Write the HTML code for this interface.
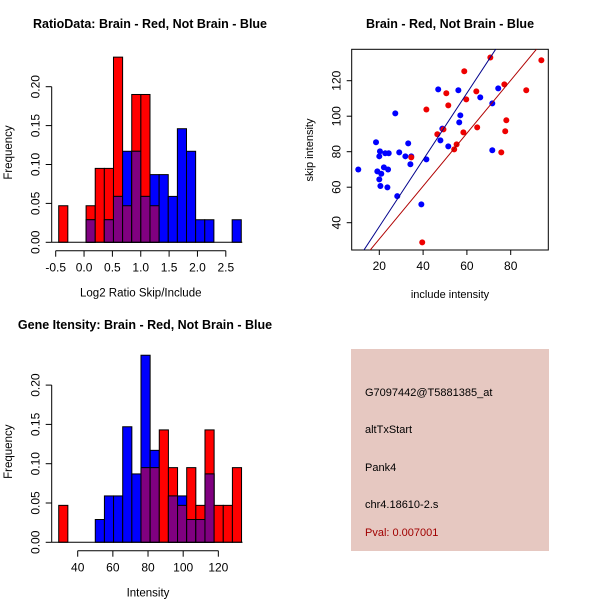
<!DOCTYPE html>
<html><head><meta charset="utf-8"><style>
html,body{margin:0;padding:0;background:#fff;}
svg{display:block;font-family:"Liberation Sans",sans-serif;}
</style></head><body>
<svg id="s" width="600" height="600" viewBox="0 0 600 600">
<rect width="600" height="600" fill="#fff"/>
<text x="150" y="28" text-anchor="middle" font-size="12.5" font-weight="bold">RatioData: Brain - Red, Not Brain - Blue</text>
<text x="450" y="28" text-anchor="middle" font-size="12.5" font-weight="bold">Brain - Red, Not Brain - Blue</text>
<text x="145" y="329" text-anchor="middle" font-size="12.5" font-weight="bold">Gene Itensity: Brain - Red, Not Brain - Blue</text>
<g id="h1"></g>
<g id="h2"></g>
<g id="sc"></g>
<g>
<rect x="351" y="349" width="198" height="202" fill="#e6c8c1"/>
<text x="365" y="396" font-size="11">G7097442@T5881385_at</text>
<text x="365" y="433" font-size="11">altTxStart</text>
<text x="365" y="471" font-size="11">Pank4</text>
<text x="365" y="508" font-size="11">chr4.18610-2.s</text>
<text x="365" y="536" font-size="11" fill="#a00000">Pval: 0.007001</text>
</g>
</svg>
<script>
// Ratio histogram data
const ratioBinStart = -0.447;
const ratioBinWidth = 0.161;
const ratioRed = [0.047,0,0,0.047,0.095,0.095,0.238,0.047,0.19,0.19,0.047,0,0,0,0,0,0,0,0,0];
const ratioBlue = [0,0,0,0.029,0,0.029,0.059,0.117,0.117,0.059,0.087,0.087,0.059,0.146,0.117,0.029,0.029,0,0,0.029];
const ratioXTicks = [-0.5,0,0.5,1,1.5,2,2.5];
const ratioXLabels = ["-0.5","0.0","0.5","1.0","1.5","2.0","2.5"];
const freqTicks = [0,0.05,0.1,0.15,0.2];
const freqLabels = ["0.00","0.05","0.10","0.15","0.20"];
// Intensity histogram data
const intBinStart = 29.2;
const intBinWidth = 5.2;
const intRed = [0.047,0,0,0,0,0,0,0,0,0.095,0.095,0.143,0.095,0.047,0.095,0.047,0.143,0.047,0.047,0.095];
const intBlue = [0,0,0,0,0.029,0.059,0.059,0.147,0.087,0.238,0.117,0,0.059,0.059,0.029,0.029,0.087,0,0,0];
const intXTicks = [40,60,80,100,120];
// Scatter data
const blueX = [10.4,18.5,20.3,20,19.1,20.9,20,20.5,22.1,24,22.7,24.3,23.7,27.3,28.2,29.1,31.9,33.2,34.2,34.6,39.2,41.5,46.9,47.9,48.8,51.5,56.1,57,56.5,66.1,71.6,71.6,74.3];
const blueY = [70,85.3,80.2,77.4,68.9,67.6,64.4,60.7,71.2,70,79.1,79.1,59.9,101.6,55,79.6,77.4,84.7,72.9,77.4,50.3,75.7,115.1,86.4,93,83,114.6,100.5,96.5,110.6,107.2,80.8,115.7];
const redX = [70.7,94,58.8,77.1,64.3,87.1,50.6,59.7,51.5,41.5,78,64.7,77.5,58.4,46.5,49.3,55.3,54.2,75.7,34.6,39.6];
const redY = [133.1,131.5,125.3,117.9,114,114.6,112.9,109.5,106.1,103.8,97.7,93.7,91.5,90.9,89.8,92.6,84.1,81.3,79.6,76.8,28.9];
const blueFit = [0.2,1.88];
const redFit = [1.0,1.49];
const scXTicks = [20,40,60,80];
const scYTicks = [40,60,80,100,120];

const NS="http://www.w3.org/2000/svg";
function mk(parent,tag,attrs){const e=document.createElementNS(NS,tag);for(const k in attrs)e.setAttribute(k,attrs[k]);parent.appendChild(e);return e;}

function hist(g,start,w,red,blue,sx,sy,xTicks,xLabels,xTitle,axisY,yTicks,yLabels,yAxisX){
  for(let i=0;i<red.length;i++){
    const x0=sx(start+i*w),x1=sx(start+(i+1)*w);
    const r=red[i],b=blue[i],m=Math.min(r,b);
    if(r>0){const e=mk(g,'rect',{x:x0,y:sy(r),width:x1-x0,height:sy(0)-sy(r),fill:'#ff0000',stroke:'#000','stroke-width':1});
      
      }
    if(b>0){const e=mk(g,'rect',{x:x0,y:sy(b),width:x1-x0,height:sy(0)-sy(b),fill:'#0000ff',stroke:'#000','stroke-width':1});
      
      }
    if(m>0){const e=mk(g,'rect',{x:x0,y:sy(m),width:x1-x0,height:sy(0)-sy(m),fill:'#800080',stroke:'#000','stroke-width':1});
      
      }
  }
  const bl=mk(g,'line',{x1:yAxisX,x2:sx(start+red.length*w)+1,y1:sy(0),y2:sy(0),stroke:'#000'});
  
  
  const xa=mk(g,'line',{x1:sx(xTicks[0]),x2:sx(xTicks[xTicks.length-1]),y1:axisY,y2:axisY,stroke:'#000'});
  
  
  xTicks.forEach((t,i)=>{mk(g,'line',{x1:sx(t),x2:sx(t),y1:axisY,y2:axisY+6,stroke:'#000'});
    const tx=mk(g,'text',{x:sx(t),y:axisY+21,'text-anchor':'middle','font-size':12});tx.textContent=xLabels[i];
    
    });
  const xt=mk(g,'text',{x:(sx(xTicks[0])+sx(xTicks[xTicks.length-1]))/2,y:axisY+46,'text-anchor':'middle','font-size':11.5});xt.textContent=xTitle;
  
  
  const ya=mk(g,'line',{x1:yAxisX,x2:yAxisX,y1:sy(yTicks[0]),y2:sy(yTicks[yTicks.length-1]),stroke:'#000'});
  
  
  yTicks.forEach((t,i)=>{mk(g,'line',{x1:yAxisX-6,x2:yAxisX,y1:sy(t),y2:sy(t),stroke:'#000'});
    const tx=mk(g,'text',{x:yAxisX-12,y:sy(t),'text-anchor':'middle','font-size':12,transform:`rotate(-90 ${yAxisX-12} ${sy(t)})`});tx.textContent=yLabels[i];
    
    });
  const yt=mk(g,'text',{x:12,y:(sy(yTicks[0])+sy(yTicks[yTicks.length-1]))/2-12,'text-anchor':'middle','font-size':11.5,transform:`rotate(-90 12 ${(sy(yTicks[0])+sy(yTicks[yTicks.length-1]))/2-12})`});
  yt.textContent='Frequency';
  
  
}
hist(document.getElementById('h1'),ratioBinStart,ratioBinWidth,ratioRed,ratioBlue,
  v=>55.7+(v+0.5)*56.7, v=>242.3-v*778, ratioXTicks,ratioXLabels,'Log2 Ratio Skip/Include',250.7,freqTicks,freqLabels,51.7);
hist(document.getElementById('h2'),intBinStart,intBinWidth,intRed,intBlue,
  v=>77.7+(v-40)*1.758, v=>542.3-v*786, intXTicks,intXTicks.map(String),'Intensity',550.7,freqTicks,freqLabels,51.7);

// scatter
(function(){
  const g=document.getElementById('sc');
  const sx=v=>379.3+(v-20)*2.19, sy=v=>80.7-(v-120)*1.775;
  const L=351.7,R=548.3,T=49.3,B=250;
  const cp=mk(g,'clipPath',{id:'scclip'});mk(cp,'rect',{x:L,y:T,width:R-L,height:B-T});
  const box=mk(g,'rect',{x:L,y:T,width:R-L,height:B-T,fill:'none',stroke:'#000'});
  
  
  blueX.forEach((x,i)=>{const c=mk(g,'circle',{cx:sx(x),cy:sy(blueY[i]),r:3,fill:'#0000ff'});
    
    });
  redX.forEach((x,i)=>{const c=mk(g,'circle',{cx:sx(x),cy:sy(redY[i]),r:3,fill:'#ee0000'});
    
    });
  const x0=0,x1=110;
  const bl=mk(g,'line',{x1:sx(x0),y1:sy(blueFit[0]+blueFit[1]*x0),x2:sx(x1),y2:sy(blueFit[0]+blueFit[1]*x1),stroke:'#00008b','clip-path':'url(#scclip)'});
  
  
  const rl=mk(g,'line',{x1:sx(x0),y1:sy(redFit[0]+redFit[1]*x0),x2:sx(x1),y2:sy(redFit[0]+redFit[1]*x1),stroke:'#b00000','clip-path':'url(#scclip)'});
  
  
  scXTicks.forEach(t=>{mk(g,'line',{x1:sx(t),x2:sx(t),y1:B,y2:B+5,stroke:'#000'});
    const tx=mk(g,'text',{x:sx(t),y:B+20,'text-anchor':'middle','font-size':12});tx.textContent=t;
    
    });
  scYTicks.forEach(t=>{mk(g,'line',{x1:L-5,x2:L,y1:sy(t),y2:sy(t),stroke:'#000'});
    const tx=mk(g,'text',{x:L-11,y:sy(t),'text-anchor':'middle','font-size':12,transform:`rotate(-90 ${L-11} ${sy(t)})`});tx.textContent=t;
    
    });
  const xt=mk(g,'text',{x:450,y:298,'text-anchor':'middle','font-size':11});xt.textContent='include intensity';
  
  
  const yt=mk(g,'text',{x:313,y:150,'text-anchor':'middle','font-size':11,transform:'rotate(-90 313 150)'});yt.textContent='skip intensity';
  
  
})();
</script>
</body></html>
